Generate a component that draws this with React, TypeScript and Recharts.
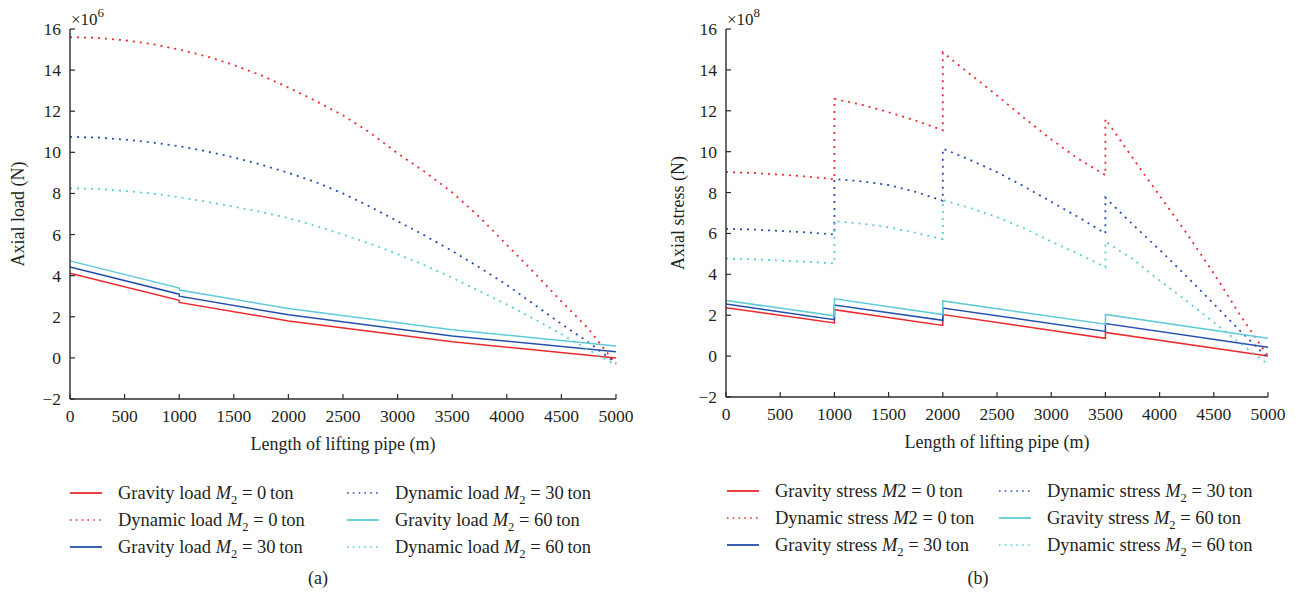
import React from 'react';
import { LineChart, Line, XAxis, YAxis } from 'recharts';

// shared axes
const xTicks = [0, 500, 1000, 1500, 2000, 2500, 3000, 3500, 4000, 4500, 5000];
const yTicks = [-2, 0, 2, 4, 6, 8, 10, 12, 14, 16];

// (a) axial load, x10^6 N
const gravLoadX = [0, 1000, 1000, 2000, 3500, 5000];
const gravLoad0 = [4.12, 2.8, 2.7, 1.8, 0.78, 0.0];
const gravLoad30 = [4.42, 3.1, 3.0, 2.1, 1.07, 0.3];
const gravLoad60 = [4.72, 3.4, 3.3, 2.4, 1.37, 0.58];
const dynLoadX = [0, 250, 500, 750, 1000, 1250, 1500, 1750, 2000, 2250, 2500, 2750, 3000, 3250, 3500, 3750, 4000, 4250, 4500, 4750, 5000];
const dynLoad0 = [15.6, 15.57, 15.45, 15.27, 15.0, 14.67, 14.25, 13.75, 13.15, 12.5, 11.8, 10.95, 9.95, 9.05, 8.05, 6.85, 5.5, 4.15, 2.75, 1.4, -0.3];
const dynLoad30 = [10.75, 10.72, 10.62, 10.48, 10.3, 10.05, 9.75, 9.4, 9.0, 8.55, 8.0, 7.35, 6.65, 5.95, 5.2, 4.4, 3.55, 2.6, 1.65, 0.75, -0.25];
const dynLoad60 = [8.25, 8.22, 8.12, 8.0, 7.82, 7.6, 7.35, 7.1, 6.8, 6.42, 6.0, 5.55, 5.05, 4.5, 3.9, 3.25, 2.6, 1.9, 1.15, 0.38, -0.35];

// (b) axial stress, x10^8
const gravStressX = [0, 1000, 1000, 2000, 2000, 3500, 3500, 5000];
const gravStress0 = [2.37, 1.62, 2.27, 1.5, 2.03, 0.87, 1.16, 0.0];
const gravStress30 = [2.55, 1.78, 2.5, 1.75, 2.35, 1.21, 1.59, 0.43];
const gravStress60 = [2.72, 1.97, 2.8, 2.03, 2.7, 1.56, 2.04, 0.87];
const dynStressX = [0, 250, 500, 750, 1000, 1000, 1250, 1500, 1750, 2000, 2000, 2250, 2500, 2750, 3000, 3250, 3500, 3500, 3750, 4000, 4250, 4500, 4750, 5000];
const dynStress0 = [9.0, 8.96, 8.88, 8.78, 8.65, 12.58, 12.3, 11.93, 11.52, 11.05, 14.85, 13.8, 12.75, 11.65, 10.6, 9.65, 8.85, 11.6, 9.7, 7.85, 6.0, 4.05, 1.95, 0.0];
const dynStress30 = [6.22, 6.19, 6.12, 6.05, 5.95, 8.66, 8.55, 8.37, 8.03, 7.6, 10.15, 9.6, 9.0, 8.3, 7.55, 6.8, 6.0, 7.75, 6.45, 5.2, 3.9, 2.55, 1.2, -0.1];
const dynStress60 = [4.77, 4.74, 4.67, 4.61, 4.53, 6.6, 6.48, 6.3, 6.03, 5.72, 7.63, 7.25, 6.8, 6.25, 5.6, 5.0, 4.35, 5.6, 4.75, 3.7, 2.7, 1.65, 0.6, -0.4];

const RED = '#ea2a2e';
const BLUE = '#2550ad';
const CYAN = '#5ecbd8';
const INK = '#231f20';
const AXIS = '#2b2b2b';
const FONT = "'Liberation Serif', 'Times New Roman', serif";
const DOTS = '2 5';

const pts = (xs: number[], ys: number[]) => xs.map((x, i) => ({ x, y: ys[i] }));
const fmt = (v: number) => (v < 0 ? `\u2212${-v}` : `${v}`);

// MATLAB-like inward ticks on all four sides
const bottomTick = (p: any) => (
  <g>
    <line x1={p.x} y1={p.y} x2={p.x} y2={p.y - 5} stroke={AXIS} strokeWidth={1.2} />
    <text x={p.x} y={p.y + 23} textAnchor="middle" fontFamily={FONT} fontSize={17.5} fill={INK}>
      {fmt(p.payload.value)}
    </text>
  </g>
);
const topTick = (p: any) => (
  <line x1={p.x} y1={p.y} x2={p.x} y2={p.y + 5} stroke={AXIS} strokeWidth={1.2} />
);
const leftTick = (p: any) => (
  <g>
    <line x1={p.x} y1={p.y} x2={p.x + 5} y2={p.y} stroke={AXIS} strokeWidth={1.2} />
    <text x={p.x - 9} y={p.y + 6} textAnchor="end" fontFamily={FONT} fontSize={17.5} fill={INK}>
      {fmt(p.payload.value)}
    </text>
  </g>
);
const rightTick = (p: any) => (
  <line x1={p.x} y1={p.y} x2={p.x - 5} y2={p.y} stroke={AXIS} strokeWidth={1.2} />
);

const xLabel = (p: any) => {
  const vb = p.viewBox;
  return (
    <text x={vb.x + vb.width / 2} y={vb.y + 51} textAnchor="middle" fontFamily={FONT} fontSize={18} fill={INK}>
      Length of lifting pipe (m)
    </text>
  );
};

const yLabel = (text: string, exp: string, dx: number) => (p: any) => {
  const vb = p.viewBox;
  const ax = vb.x + vb.width;
  const cy = vb.y + vb.height / 2;
  return (
    <g>
      <text
        x={ax - dx}
        y={cy}
        transform={`rotate(-90 ${ax - dx} ${cy})`}
        textAnchor="middle"
        dominantBaseline="central"
        fontFamily={FONT}
        fontSize={18}
        fill={INK}
      >
        {text}
      </text>
      <text x={ax + 1} y={vb.y - 4} fontFamily={FONT} fontSize={17} fill={INK}>
        {'\u00d710'}
        <tspan dy={-8} fontSize={13}>{exp}</tspan>
      </text>
    </g>
  );
};

type Series = { xs: number[]; ys: number[]; color: string; dotted: boolean };

function Panel({ series, yTitle, exp, yWidth, right, bottom, labelDx }: {
  series: Series[]; yTitle: string; exp: string; yWidth: number; right: number; bottom: number; labelDx: number;
}) {
  return (
    <LineChart width={640} height={470} margin={{ top: 29, right, bottom: 0, left: 0 }}>
      <XAxis
        dataKey="x"
        type="number"
        domain={[0, 5000]}
        ticks={xTicks}
        interval={0}
        height={bottom}
        tickSize={0}
        tickMargin={0}
        tickLine={false}
        tick={bottomTick}
        axisLine={{ stroke: AXIS, strokeWidth: 1.4 }}
        label={xLabel}
      />
      <XAxis
        xAxisId="top"
        orientation="top"
        type="number"
        domain={[0, 5000]}
        ticks={xTicks}
        interval={0}
        height={0}
        tickSize={0}
        tickMargin={0}
        tickLine={false}
        tick={topTick}
        axisLine={{ stroke: AXIS, strokeWidth: 1.4 }}
      />
      <YAxis
        type="number"
        domain={[-2, 16]}
        ticks={yTicks}
        interval={0}
        width={yWidth}
        tickSize={0}
        tickMargin={0}
        tickLine={false}
        tick={leftTick}
        axisLine={{ stroke: AXIS, strokeWidth: 1.4 }}
        label={yLabel(yTitle, exp, labelDx)}
      />
      <YAxis
        yAxisId="right"
        orientation="right"
        type="number"
        domain={[-2, 16]}
        ticks={yTicks}
        interval={0}
        width={0}
        tickSize={0}
        tickMargin={0}
        tickLine={false}
        tick={rightTick}
        axisLine={{ stroke: AXIS, strokeWidth: 1.4 }}
      />
      {series.map((s, i) => (
        <Line
          key={i}
          data={pts(s.xs, s.ys)}
          dataKey="y"
          type="linear"
          stroke={s.color}
          strokeWidth={s.dotted ? 1.8 : 1.5}
          strokeDasharray={s.dotted ? DOTS : undefined}
          dot={false}
          activeDot={false}
          isAnimationActive={false}
        />
      ))}
    </LineChart>
  );
}

type LegendItem = { head: string; m: string; sub: boolean; tail: string; color: string; dotted: boolean };

const loadLegend: LegendItem[] = [
  { head: 'Gravity load ', m: 'M', sub: true, tail: ' = 0\u2009ton', color: RED, dotted: false },
  { head: 'Dynamic load ', m: 'M', sub: true, tail: ' = 0\u2009ton', color: RED, dotted: true },
  { head: 'Gravity load ', m: 'M', sub: true, tail: ' = 30\u2009ton', color: BLUE, dotted: false },
  { head: 'Dynamic load ', m: 'M', sub: true, tail: ' = 30\u2009ton', color: BLUE, dotted: true },
  { head: 'Gravity load ', m: 'M', sub: true, tail: ' = 60\u2009ton', color: CYAN, dotted: false },
  { head: 'Dynamic load ', m: 'M', sub: true, tail: ' = 60\u2009ton', color: CYAN, dotted: true },
];
const stressLegend: LegendItem[] = [
  { head: 'Gravity stress ', m: 'M', sub: false, tail: ' = 0\u2009ton', color: RED, dotted: false },
  { head: 'Dynamic stress ', m: 'M', sub: false, tail: ' = 0\u2009ton', color: RED, dotted: true },
  { head: 'Gravity stress ', m: 'M', sub: true, tail: ' = 30\u2009ton', color: BLUE, dotted: false },
  { head: 'Dynamic stress ', m: 'M', sub: true, tail: ' = 30\u2009ton', color: BLUE, dotted: true },
  { head: 'Gravity stress ', m: 'M', sub: true, tail: ' = 60\u2009ton', color: CYAN, dotted: false },
  { head: 'Dynamic stress ', m: 'M', sub: true, tail: ' = 60\u2009ton', color: CYAN, dotted: true },
];

function LegendBox({ items, cols, rows }: { items: LegendItem[]; cols: { sx: number; tx: number }[]; rows: number[] }) {
  return (
    <>
      {items.map((it, i) => {
        const c = cols[Math.floor(i / 3)];
        const y = rows[i % 3];
        return (
          <React.Fragment key={i}>
            <svg style={{ position: 'absolute', left: c.sx, top: y - 3 }} width={32} height={6}>
              <line x1={0} y1={3} x2={32} y2={3} stroke={it.color} strokeWidth={it.dotted ? 1.6 : 1.8}
                strokeDasharray={it.dotted ? '1.6 4.2' : undefined} />
            </svg>
            <div style={{ position: 'absolute', left: c.tx, top: y - 12, height: 24, lineHeight: '24px', fontFamily: FONT, fontSize: 18.5, color: INK, whiteSpace: 'nowrap' }}>
              {it.head}
              <i>{it.m}</i>
              {it.sub ? <span style={{ fontSize: 12.5, position: 'relative', top: 5 }}>2</span> : '2'}
              {it.tail}
            </div>
          </React.Fragment>
        );
      })}
    </>
  );
}

export default function App() {
  const loadSeries: Series[] = [
    { xs: gravLoadX, ys: gravLoad0, color: RED, dotted: false },
    { xs: dynLoadX, ys: dynLoad0, color: RED, dotted: true },
    { xs: gravLoadX, ys: gravLoad30, color: BLUE, dotted: false },
    { xs: dynLoadX, ys: dynLoad30, color: BLUE, dotted: true },
    { xs: gravLoadX, ys: gravLoad60, color: CYAN, dotted: false },
    { xs: dynLoadX, ys: dynLoad60, color: CYAN, dotted: true },
  ];
  const stressSeries: Series[] = [
    { xs: gravStressX, ys: gravStress0, color: RED, dotted: false },
    { xs: dynStressX, ys: dynStress0, color: RED, dotted: true },
    { xs: gravStressX, ys: gravStress30, color: BLUE, dotted: false },
    { xs: dynStressX, ys: dynStress30, color: BLUE, dotted: true },
    { xs: gravStressX, ys: gravStress60, color: CYAN, dotted: false },
    { xs: dynStressX, ys: dynStress60, color: CYAN, dotted: true },
  ];

  return (
    <div style={{ position: 'absolute', left: 0, top: 0, width: 1299, height: 602, background: '#fff', overflow: 'hidden' }}>
      <div style={{ position: 'absolute', left: 0, top: 0 }}>
        <Panel series={loadSeries} yTitle="Axial load (N)" exp="6" yWidth={70} right={24} bottom={71} labelDx={52} />
      </div>
      <div style={{ position: 'absolute', left: 650, top: 0 }}>
        <Panel series={stressSeries} yTitle="Axial stress (N)" exp="8" yWidth={76} right={22} bottom={73} labelDx={48} />
      </div>
      <LegendBox items={loadLegend} cols={[{ sx: 70, tx: 118 }, { sx: 347, tx: 395 }]} rows={[493, 520, 547]} />
      <LegendBox items={stressLegend} cols={[{ sx: 727, tx: 775 }, { sx: 999, tx: 1047 }]} rows={[491, 518, 545]} />
      <div style={{ position: 'absolute', left: 303, top: 568, width: 30, textAlign: 'center', fontFamily: FONT, fontSize: 18, color: INK }}>(a)</div>
      <div style={{ position: 'absolute', left: 963, top: 568, width: 30, textAlign: 'center', fontFamily: FONT, fontSize: 18, color: INK }}>(b)</div>
    </div>
  );
}
